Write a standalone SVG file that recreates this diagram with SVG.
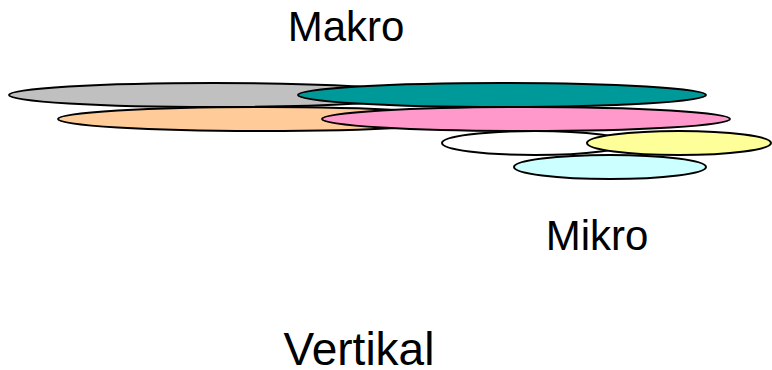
<svg xmlns="http://www.w3.org/2000/svg" width="772" height="370" viewBox="0 0 772 370">
<style>
.e{stroke:#000;stroke-width:2}
.t{font-family:"Liberation Sans",Arial,sans-serif;fill:#000;text-anchor:middle}
</style>
<rect width="772" height="370" fill="#fff"/>
<g id="gray"><ellipse class="e" cx="213" cy="95" rx="204" ry="12" fill="#C0C0C0"/></g>
<g id="teal"><ellipse class="e" cx="502" cy="95" rx="204" ry="12" fill="#009999"/></g>
<g id="peach"><ellipse class="e" cx="262" cy="119" rx="204" ry="12" fill="#FFCC99"/></g>
<g id="pink"><ellipse class="e" cx="526" cy="119" rx="204" ry="12" fill="#FF99CC"/></g>
<g id="white"><ellipse class="e" cx="535" cy="143" rx="93" ry="12" fill="#FFFFFF"/></g>
<g id="yellow"><ellipse class="e" cx="679" cy="143" rx="92" ry="12" fill="#FFFF99"/></g>
<g id="cyan"><ellipse class="e" cx="610" cy="167" rx="96" ry="12" fill="#CCFFFF"/></g>
<g id="connectors"></g>
<g id="labels">
<text class="t" x="346" y="41" font-size="42">Makro</text>
<text class="t" x="597" y="250" font-size="42">Mikro</text>
<text class="t" x="359" y="365" font-size="46">Vertikal</text>
</g>
</svg>
